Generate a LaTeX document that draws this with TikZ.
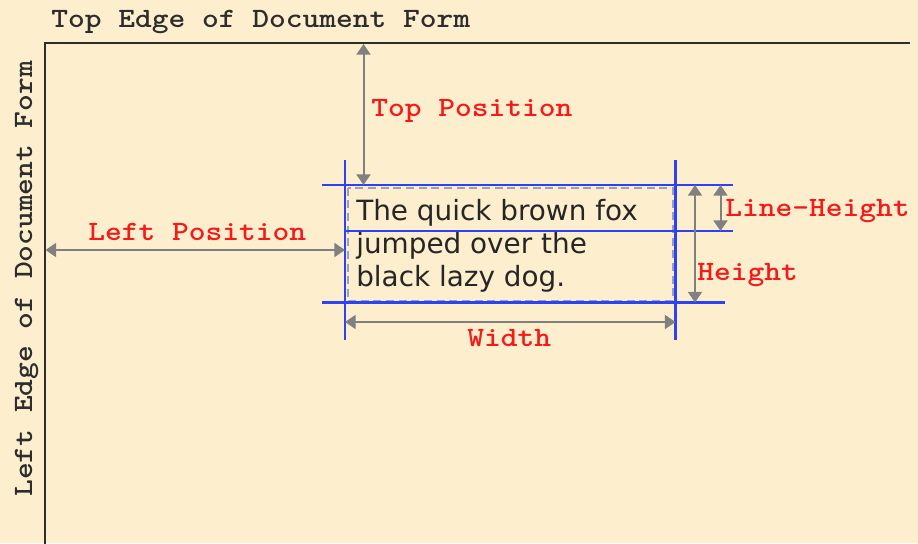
\documentclass[tikz,border=0pt]{standalone}
\usepackage{fontspec}
\usetikzlibrary{arrows.meta}
\newfontfamily\monofont{lmmono10-regular}[Extension=.otf,BoldFont=lmmonolt10-bold,FakeStretch=1.14]
\newfontfamily\bodyfont{DejaVu Sans}
\definecolor{bg}{RGB}{253,238,206}
\definecolor{frameC}{RGB}{45,45,45}
\definecolor{dimC}{RGB}{128,128,128}
\definecolor{blueC}{RGB}{45,65,245}
\definecolor{redC}{RGB}{245,25,25}
\definecolor{dashC}{RGB}{150,160,195}
\begin{document}
\begin{tikzpicture}[x=0.75pt,y=-0.75pt,
  framestyle/.style={draw=frameC,line width=1.5pt},
  guide/.style={draw=blueC,line width=1.6pt},
  dimline/.style={draw=dimC,line width=1.5pt,{Triangle[width=10.5pt,length=8pt]}-{Triangle[width=10.5pt,length=8pt]}},
  lbl/.style={inner sep=0pt,font=\monofont\bfseries\fontsize{21pt}{24pt}\selectfont,text=redC},
  edgelbl/.style={inner sep=0pt,font=\monofont\bfseries\fontsize{21pt}{24pt}\selectfont,text=frameC},
  body/.style={inner sep=0pt,font=\bodyfont\fontsize{20.9pt}{24pt}\selectfont,text=black!85}]
\fill[bg] (0,0) rectangle (918,543);
\useasboundingbox (0,0) rectangle (918,543);
% frame
\coordinate (fTL) at (45,43);
\coordinate (fTR) at (910,43);
\coordinate (fBL) at (45,545);
\draw[framestyle] (fTR) -- (fTL) -- (fBL);
% edge labels
\node[edgelbl,anchor=base west] (topedge) at (51,27) {Top Edge of Document Form};
\node[edgelbl,anchor=base west,rotate=90] (leftedge) at (32,497) {Left Edge of Document Form};
% dashed box
\draw[draw=dashC,line width=1.5pt,dash pattern=on 6pt off 3.5pt] (347.5,187.5) rectangle (672.5,301);
% text
\node[body,anchor=base west] (l1) at (356,220) {The quick brown fox};
\node[body,anchor=base west] (l2) at (356,253) {jumped over the};
\node[body,anchor=base west] (l3) at (356,286) {black lazy dog.};
% blue guides
\coordinate (hA1) at (322,185); \coordinate (hA2) at (733,185);
\coordinate (hB1) at (345,231); \coordinate (hB2) at (733,231);
\coordinate (hC1) at (322,302.5); \coordinate (hC2) at (725,302.5);
\coordinate (vL1) at (345,160); \coordinate (vL2) at (345,340);
\coordinate (vR1) at (675.5,160); \coordinate (vR2) at (675.5,340);
\draw[guide] (hA1) -- (hA2);
\draw[guide] (hB1) -- (hB2);
\draw[guide] (hC1) -- (hC2);
\draw[guide] (vL1) -- (vL2);
\draw[guide] (vR1) -- (vR2);
% dimension lines
\coordinate (tp1) at (363.5,44); \coordinate (tp2) at (363.5,185);
\draw[dimline] (tp1) -- (tp2);
\coordinate (lp1) at (45.5,250); \coordinate (lp2) at (345,250);
\draw[dimline] (lp1) -- (lp2);
\coordinate (w1) at (345,322); \coordinate (w2) at (675.5,322);
\draw[dimline] (w1) -- (w2);
\coordinate (h1) at (695,185); \coordinate (h2) at (695,302.5);
\draw[dimline] (h1) -- (h2);
\coordinate (lh1) at (720.5,185); \coordinate (lh2) at (720.5,231);
\draw[dimline] (lh1) -- (lh2);
% labels
\node[lbl,anchor=base west] (toppos) at (371,116) {Top Position};
\node[lbl,anchor=base west] (leftpos) at (88,240) {Left Position};
\node[lbl,anchor=base west] (width) at (467,346) {Width};
\node[lbl,anchor=base west] (height) at (697,280) {Height};
\node[lbl,anchor=base west] (lineheight) at (725,216) {Line-Height};
\end{tikzpicture}
\end{document}
